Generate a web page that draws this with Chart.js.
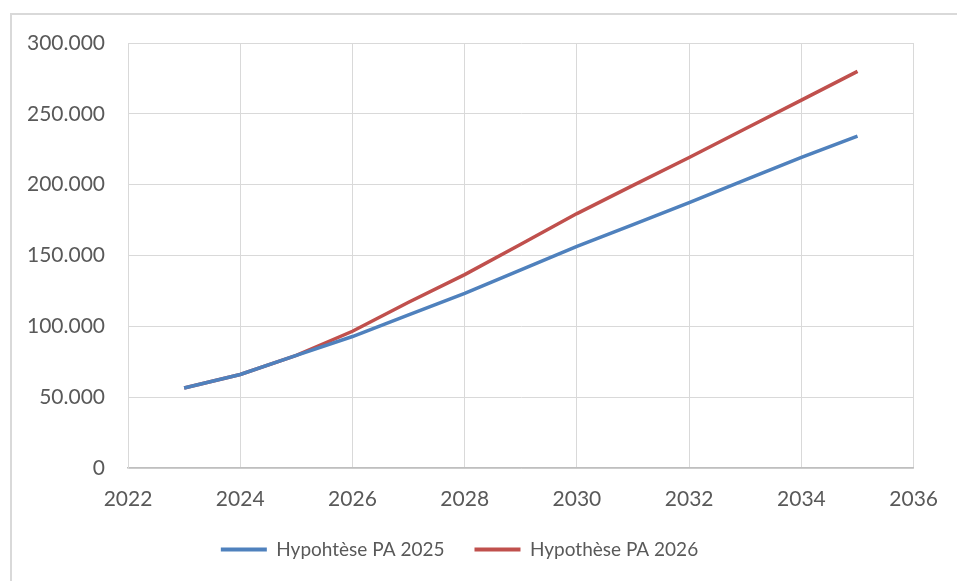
<!DOCTYPE html>
<html>
<head>
<meta charset="utf-8">
<script src="https://cdn.jsdelivr.net/npm/chart.js@4"></script>
<style>
    html, body { margin: 0; padding: 0; background: #fff; }
    #wrap { position: relative; width: 957px; height: 581px; overflow: hidden; }
    #frame { position: absolute; left: 10px; top: 13px; width: 1000px; height: 600px;
             border-left: 2px solid #d9d9d9; border-top: 2px solid #d9d9d9; }
    canvas { position: absolute; left: 0; top: 0; }
</style>
</head>
<body>
<div id="wrap">
    <div id="frame"></div>
    <canvas id="chart" width="957" height="581"></canvas>
</div>
<script>
// data
const years = [2023, 2024, 2025, 2026, 2027, 2028, 2029, 2030, 2031, 2032, 2033, 2034, 2035];
const pa2025 = [56500, 66000, 79500, 92800, 108100, 123300, 139800, 156400, 171800, 187400, 203300, 219200, 234200];
const pa2026 = [56500, 66000, 79500, 96500, 117000, 136500, 158000, 179600, 199500, 219200, 239500, 259700, 280000];
const seriesNames = ['Hypohtèse PA 2025', 'Hypothèse PA 2026'];
const seriesColors = ['#4f81bd', '#c0504d'];

const textColor = '#595959';
const gridColor = '#d9d9d9';
const axisFont = { family: 'Lato', size: 21 };
const legendFont = { family: 'Lato', size: 19 };

function toPoints(values) {
    let pts = [];
    for (let i = 0; i < years.length; i++) {
        pts.push({ x: years[i], y: values[i] });
    }
    return pts;
}

function formatThousands(v) {
    return String(v).replace(/\B(?=(\d{3})+(?!\d))/g, '.');
}

const ctx = document.getElementById('chart').getContext('2d');
new Chart(ctx, {
    type: 'line',
    data: {
        datasets: [pa2025, pa2026].map((vals, i) => ({
            label: seriesNames[i],
            data: toPoints(vals),
            borderColor: seriesColors[i],
            backgroundColor: seriesColors[i],
            borderWidth: 3.5,
            pointRadius: 0,
            tension: 0,
            fill: false
        }))
    },
    options: {
        responsive: false,
        animation: false,
        layout: { padding: { left: 0, right: 38, top: 43, bottom: 12 } },
        scales: {
            x: {
                type: 'linear',
                min: 2022,
                max: 2036,
                ticks: { stepSize: 2, color: textColor, font: axisFont, padding: 19, maxRotation: 0,
                         callback: v => String(v) },
                grid: { color: gridColor, lineWidth: 1, drawTicks: false },
                border: { color: '#bfbfbf', width: 1.5 },
                afterFit: s => { s.height = 42; }
            },
            y: {
                min: 0,
                max: 300000,
                ticks: { stepSize: 50000, color: textColor, font: axisFont, padding: 23,
                         callback: v => formatThousands(v) },
                grid: { color: gridColor, lineWidth: 1, drawTicks: false },
                border: { color: gridColor, width: 1 },
                afterFit: s => { s.width = 128; }
            }
        },
        plugins: {
            legend: {
                position: 'bottom',
                labels: {
                    color: textColor,
                    font: legendFont,
                    boxWidth: 46,
                    boxHeight: 4,
                    padding: 30,
                    generateLabels(chart) {
                        const items = Chart.defaults.plugins.legend.labels.generateLabels(chart);
                        items.forEach(it => { it.lineWidth = 0; });
                        return items;
                    }
                }
            },
            tooltip: { enabled: false }
        }
    }
});
</script>
</body>
</html>
